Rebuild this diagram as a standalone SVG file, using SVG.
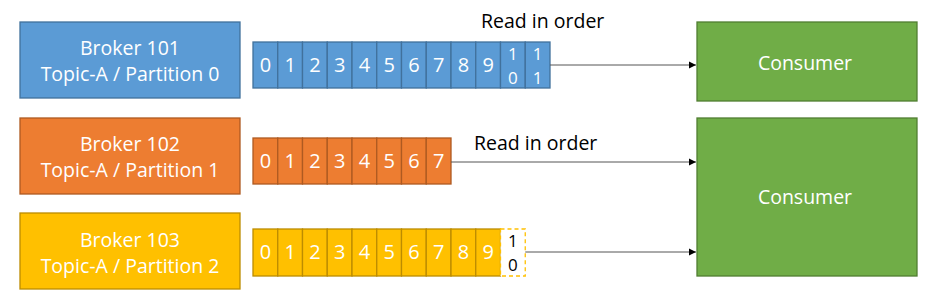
<svg xmlns="http://www.w3.org/2000/svg" width="949" height="298" viewBox="0 0 949 298">
<defs>
<style>
.t{font-family:"Open Sans","Liberation Sans",sans-serif;font-size:19.5px;fill:#fff;text-anchor:middle}
.d{font-family:"Open Sans","Liberation Sans",sans-serif;font-size:20px;fill:#fff;text-anchor:middle}
.s{font-family:"Open Sans","Liberation Sans",sans-serif;font-size:17px;fill:#fff;text-anchor:middle}
.k{font-family:"Open Sans","Liberation Sans",sans-serif;font-size:19.5px;fill:#000}
.b{fill:#5B9BD5;stroke:#41719C;stroke-width:1.3}
.o{fill:#ED7D31;stroke:#AE5A21;stroke-width:1.3}
.y{fill:#FFC000;stroke:#BC8C00;stroke-width:1.3}
.g{fill:#70AD47;stroke:#507E32;stroke-width:1.3}
.c{stroke:#555;stroke-width:1;fill:none}
</style>
<marker id="ah" markerWidth="8" markerHeight="8" refX="7" refY="4" orient="auto" markerUnits="userSpaceOnUse">
<path d="M0,0.5 L7,4 L0,7.5 Z" fill="#000"/>
</marker>
</defs>
<rect width="949" height="298" fill="#fff"/>

<g id="broker101">
<rect class="b" x="20" y="22" width="220" height="76"/>
<text class="t" x="130" y="55">Broker 101</text>
<text class="t" x="130" y="81">Topic-A / Partition 0</text>
</g>
<g id="broker102">
<rect class="o" x="20" y="118" width="220" height="76"/>
<text class="t" x="130" y="151">Broker 102</text>
<text class="t" x="130" y="177">Topic-A / Partition 1</text>
</g>
<g id="broker103">
<rect class="y" x="20" y="213" width="220" height="76"/>
<text class="t" x="130" y="247">Broker 103</text>
<text class="t" x="130" y="273">Topic-A / Partition 2</text>
</g>

<g id="partition0">
<rect class="b" x="253" y="42" width="24.75" height="46"/>
<rect class="b" x="277.75" y="42" width="24.75" height="46"/>
<rect class="b" x="302.5" y="42" width="24.75" height="46"/>
<rect class="b" x="327.25" y="42" width="24.75" height="46"/>
<rect class="b" x="352" y="42" width="24.75" height="46"/>
<rect class="b" x="376.75" y="42" width="24.75" height="46"/>
<rect class="b" x="401.5" y="42" width="24.75" height="46"/>
<rect class="b" x="426.25" y="42" width="24.75" height="46"/>
<rect class="b" x="451" y="42" width="24.75" height="46"/>
<rect class="b" x="475.75" y="42" width="24.75" height="46"/>
<rect class="b" x="500.5" y="42" width="24.75" height="46"/>
<rect class="b" x="525.25" y="42" width="24.75" height="46"/>
<text class="d" x="265.4" y="72">0</text>
<text class="d" x="290.1" y="72">1</text>
<text class="d" x="314.9" y="72">2</text>
<text class="d" x="339.6" y="72">3</text>
<text class="d" x="364.4" y="72">4</text>
<text class="d" x="389.1" y="72">5</text>
<text class="d" x="413.9" y="72">6</text>
<text class="d" x="438.6" y="72">7</text>
<text class="d" x="463.4" y="72">8</text>
<text class="d" x="488.1" y="72">9</text>
<text class="s" x="512.9" y="60">1</text>
<text class="s" x="512.9" y="84">0</text>
<text class="s" x="537.6" y="60">1</text>
<text class="s" x="537.6" y="84">1</text>
</g>

<g id="partition1">
<rect class="o" x="253" y="138" width="24.75" height="46"/>
<rect class="o" x="277.75" y="138" width="24.75" height="46"/>
<rect class="o" x="302.5" y="138" width="24.75" height="46"/>
<rect class="o" x="327.25" y="138" width="24.75" height="46"/>
<rect class="o" x="352" y="138" width="24.75" height="46"/>
<rect class="o" x="376.75" y="138" width="24.75" height="46"/>
<rect class="o" x="401.5" y="138" width="24.75" height="46"/>
<rect class="o" x="426.25" y="138" width="24.75" height="46"/>
<text class="d" x="265.4" y="168">0</text>
<text class="d" x="290.1" y="168">1</text>
<text class="d" x="314.9" y="168">2</text>
<text class="d" x="339.6" y="168">3</text>
<text class="d" x="364.4" y="168">4</text>
<text class="d" x="389.1" y="168">5</text>
<text class="d" x="413.9" y="168">6</text>
<text class="d" x="438.6" y="168">7</text>
</g>

<g id="partition2">
<rect class="y" x="253" y="229" width="24.75" height="47"/>
<rect class="y" x="277.75" y="229" width="24.75" height="47"/>
<rect class="y" x="302.5" y="229" width="24.75" height="47"/>
<rect class="y" x="327.25" y="229" width="24.75" height="47"/>
<rect class="y" x="352" y="229" width="24.75" height="47"/>
<rect class="y" x="376.75" y="229" width="24.75" height="47"/>
<rect class="y" x="401.5" y="229" width="24.75" height="47"/>
<rect class="y" x="426.25" y="229" width="24.75" height="47"/>
<rect class="y" x="451" y="229" width="24.75" height="47"/>
<rect class="y" x="475.75" y="229" width="24.75" height="47"/>
<rect x="500.5" y="229" width="24.75" height="47" fill="#fff" stroke="#FFC000" stroke-width="1.3" stroke-dasharray="4,3"/>
<text class="d" x="265.4" y="259">0</text>
<text class="d" x="290.1" y="259">1</text>
<text class="d" x="314.9" y="259">2</text>
<text class="d" x="339.6" y="259">3</text>
<text class="d" x="364.4" y="259">4</text>
<text class="d" x="389.1" y="259">5</text>
<text class="d" x="413.9" y="259">6</text>
<text class="d" x="438.6" y="259">7</text>
<text class="d" x="463.4" y="259">8</text>
<text class="d" x="488.1" y="259">9</text>
<text class="s" x="512.9" y="247" style="fill:#000">1</text>
<text class="s" x="512.9" y="271" style="fill:#000">0</text>
</g>

<g id="consumer1">
<rect class="g" x="697" y="22" width="220" height="79"/>
<text class="t" x="805" y="70">Consumer</text>
</g>
<g id="consumer2">
<rect class="g" x="697" y="118" width="220" height="158"/>
<text class="t" x="805" y="204">Consumer</text>
</g>

<g id="connectors">
<line class="c" x1="550" y1="65" x2="696" y2="65" marker-end="url(#ah)"/>
<line class="c" x1="451" y1="162" x2="696" y2="162" marker-end="url(#ah)"/>
<line class="c" x1="525.25" y1="252" x2="696" y2="252" marker-end="url(#ah)"/>
<text class="k" x="481" y="28">Read in order</text>
<text class="k" x="474" y="150">Read in order</text>
</g>
</svg>
